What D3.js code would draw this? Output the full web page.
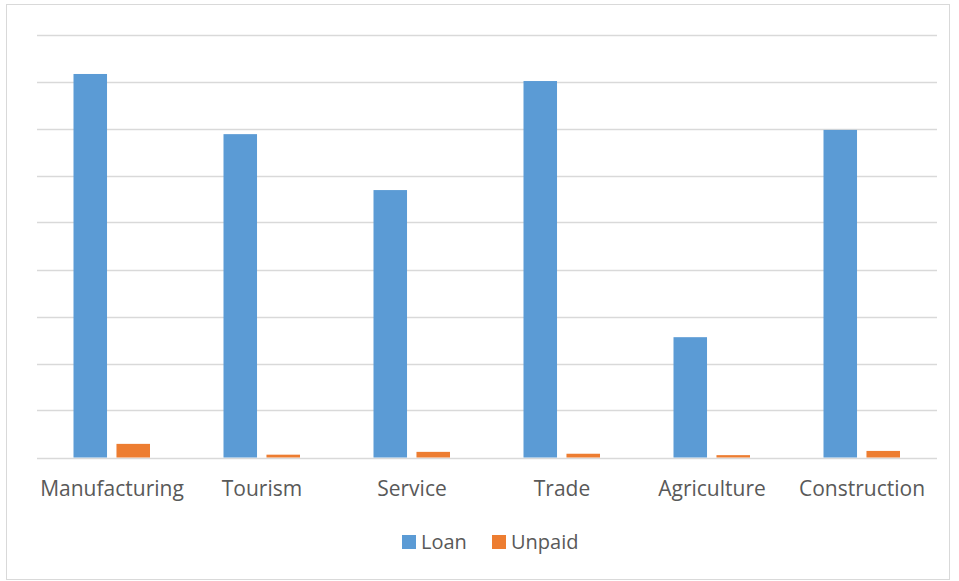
<!DOCTYPE html>
<html>
<head>
<meta charset="utf-8">
<script src="https://cdn.jsdelivr.net/npm/d3@7"></script>
<style>
  body { margin: 0; background: #fff; }
  svg text { font-family: "Open Sans", sans-serif; fill: #595959; }
</style>
</head>
<body>
<svg id="svg" width="959" height="581"></svg>
<script>
var categories = ["Manufacturing", "Tourism", "Service", "Trade", "Agriculture", "Construction"];
var series = ["Loan", "Unpaid"];
var loan = [816, 688, 569, 801, 256, 697];
var unpaid = [29, 6, 12, 8, 5, 14];
var colors = ["#5b9bd5", "#ed7d31"];
var gridTicks = [0, 100, 200, 300, 400, 500, 600, 700, 800, 900];

var svg = d3.select("#svg");

// outer chart border
svg.append("rect")
  .attr("x", 6.5).attr("y", 4.5)
  .attr("width", 943).attr("height", 575)
  .attr("fill", "none")
  .attr("stroke", "#d9d9d9");

var x0 = d3.scaleBand().domain(categories).range([37, 937]);
var x1 = d3.scaleBand().domain(series).range([36.5, 113]).paddingInner(0.22);
var y = d3.scaleLinear().domain([0, 900]).range([457.5, 34.5]);

// gridlines
svg.append("g")
  .selectAll("line")
  .data(gridTicks)
  .enter().append("line")
  .attr("x1", 37).attr("x2", 937)
  .attr("y1", function(d) { return Math.round(y(d)) + 0.5; })
  .attr("y2", function(d) { return Math.round(y(d)) + 0.5; })
  .attr("stroke", "#d9d9d9")
  .attr("stroke-width", 1.5);

var rows = categories.map(function(c, i) { return [loan[i], unpaid[i]]; });

var groups = svg.append("g")
  .selectAll("g")
  .data(rows)
  .enter().append("g")
  .attr("transform", function(d, i) { return "translate(" + x0(categories[i]) + ",0)"; });

groups.selectAll("rect")
  .data(function(d) { return d; })
  .enter().append("rect")
  .attr("x", function(d, j) { return x1(series[j]); })
  .attr("width", x1.bandwidth())
  .attr("y", function(d) { return y(d); })
  .attr("height", function(d) { return y(0) - y(d); })
  .attr("fill", function(d, j) { return colors[j]; });

// category labels
svg.append("g")
  .selectAll("text")
  .data(categories)
  .enter().append("text")
  .attr("x", function(d) { return x0(d) + x0.bandwidth() / 2; })
  .attr("y", 496)
  .attr("text-anchor", "middle")
  .attr("font-size", 21)
  .text(function(d) { return d; });

// legend
var legendX = [402, 492];
var legend = svg.append("g")
  .selectAll("g")
  .data(series)
  .enter().append("g")
  .attr("transform", function(d, i) { return "translate(" + legendX[i] + ",535)"; });
legend.append("rect")
  .attr("width", 14).attr("height", 14)
  .attr("fill", function(d, i) { return colors[i]; });
legend.append("text")
  .attr("x", 19).attr("y", 14)
  .attr("font-size", 20)
  .text(function(d) { return d; });
</script>
</body>
</html>
